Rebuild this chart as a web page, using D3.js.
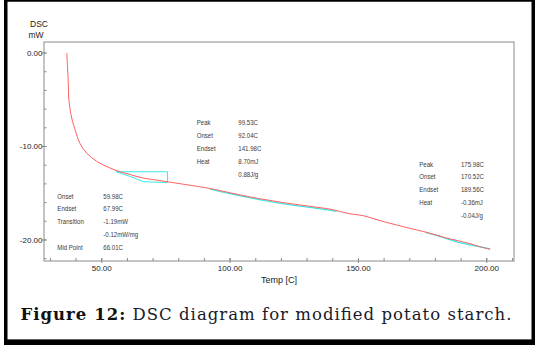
<!DOCTYPE html>
<html>
<head>
<meta charset="utf-8">
<script src="https://cdn.jsdelivr.net/npm/d3@7"></script>
<style>
  html, body { margin: 0; padding: 0; background: #fff; }
  svg { display: block; }
</style>
</head>
<body>
<div id="chart"></div>
<script>
// DSC trace of modified potato starch.

// heat flow (mW) vs temperature (C)
const DSC_TEMP = [36.4, 36.6, 36.8, 37.0, 37.1, 37.5, 37.9, 38.6, 39.6, 41.5, 44.2, 48.1, 53.2, 57.1,
                  61.0, 64.9, 69.0, 75.0, 81.0, 88.0, 92.2, 100.0, 107.8, 114.0, 120.7, 127.0, 133.8,
                  138.9, 146.7, 151.9, 158.0, 164.9, 170.0, 175.3, 180.0, 184.4, 189.0, 193.5, 197.0, 201.3];
const DSC_MW   = [0.0, -1.2, -2.2, -3.5, -4.7, -5.7, -6.45, -7.3, -8.2, -9.66, -10.73, -11.6, -12.3, -12.7,
                  -13.0, -13.3, -13.5, -13.75, -14.0, -14.3, -14.5, -14.95, -15.4, -15.7, -16.0, -16.25, -16.5,
                  -16.7, -17.2, -17.4, -17.9, -18.4, -18.75, -19.1, -19.45, -19.8, -20.1, -20.4, -20.7, -21.0];

// baselines drawn by the analysis software (cyan)
const GLASS_STEP_TEMP  = [55.6, 75.6, 75.6, 66.2, 61.0, 55.6];
const GLASS_STEP_MW    = [-12.7, -12.7, -13.87, -13.76, -13.2, -12.7];
const PEAK1_BASE_TEMP  = [92.2, 100.0, 110.0, 125.0, 133.8, 141.5];
const PEAK1_BASE_MW    = [-14.55, -15.05, -15.6, -16.3, -16.62, -16.95];
const PEAK2_BASE_TEMP  = [176.0, 182.0, 188.3, 194.0, 201.3];
const PEAK2_BASE_MW    = [-19.15, -19.65, -20.2, -20.55, -20.95];

// annotation blocks: anchor in data coords + label/value rows
const ANN_GLASS = { temp: 32.7, mw: -15.3,
  labels: ["Onset", "Endset", "Transition", "", "Mid Point"],
  values: ["59.98C", "67.99C", "-1.19mW", "-0.12mW/mg", "66.01C"] };
const ANN_PEAK1 = { temp: 87.0, mw: -7.41,
  labels: ["Peak", "Onset", "Endset", "Heat", ""],
  values: ["99.53C", "92.04C", "141.98C", "8.70mJ", "0.88J/g"] };
const ANN_PEAK2 = { temp: 173.7, mw: -11.87,
  labels: ["Peak", "Onset", "Endset", "Heat", ""],
  values: ["175.98C", "170.52C", "189.56C", "-0.36mJ", "-0.04J/g"] };

const X_MAJOR = [50, 100, 150, 200];
const X_MINOR = d3.range(30, 211, 10);
const Y_MAJOR = [0, -10, -20];
const Y_MINOR = d3.range(0, -23, -2);

const W = 539, H = 345;
const FRAME = { left: 44, right: 514, top: 42, bottom: 261 };
const AXIS_COLOR = "#8a8a8a";
const LABEL_FONT = "'Liberation Sans', Arial, sans-serif";
const SQUEEZE = 0.8; // instrument software uses a condensed face

const fmt2 = d => d.toFixed(2);

const svg = d3.select("#chart").append("svg").attr("width", W).attr("height", H);

// outer black border of the figure
svg.append("rect").attr("x", 5.75).attr("y", 0).attr("width", 527.5).attr("height", 341.5)
  .attr("fill", "none").attr("stroke", "#000").attr("stroke-width", 3.5);
svg.append("rect").attr("x", 4).attr("y", 339.5).attr("width", 531).attr("height", 5.5).attr("fill", "#000");

const x = d3.scaleLinear().domain([27.5, 210.6]).range([FRAME.left, FRAME.right]);
const y = d3.scaleLinear().domain([1.18, -22.25]).range([FRAME.top, FRAME.bottom]);

// frame
svg.append("rect")
  .attr("x", FRAME.left).attr("y", FRAME.top)
  .attr("width", FRAME.right - FRAME.left).attr("height", FRAME.bottom - FRAME.top)
  .attr("fill", "none").attr("stroke", AXIS_COLOR).attr("stroke-width", 1);

// x axis ticks + labels
const xAx = svg.append("g").attr("transform", `translate(0,${FRAME.bottom})`);
xAx.selectAll("line.minor").data(X_MINOR).join("line").attr("class", "minor")
  .attr("x1", d => x(d)).attr("x2", d => x(d)).attr("y1", -3).attr("y2", 0)
  .attr("stroke", AXIS_COLOR);
xAx.selectAll("line.major").data(X_MAJOR).join("line").attr("class", "major")
  .attr("x1", d => x(d)).attr("x2", d => x(d)).attr("y1", -3).attr("y2", 2)
  .attr("stroke", AXIS_COLOR);
xAx.selectAll("text").data(X_MAJOR).join("text")
  .attr("x", d => x(d)).attr("y", 9.5).attr("text-anchor", "middle")
  .style("font-family", LABEL_FONT).style("font-size", "8px").style("fill", "#222")
  .text(fmt2);

// y axis ticks + labels
const yAx = svg.append("g").attr("transform", `translate(${FRAME.left},0)`);
yAx.selectAll("line.minor").data(Y_MINOR).join("line").attr("class", "minor")
  .attr("x1", 0).attr("x2", 2.5).attr("y1", d => y(d)).attr("y2", d => y(d))
  .attr("stroke", AXIS_COLOR);
yAx.selectAll("line.major").data(Y_MAJOR).join("line").attr("class", "major")
  .attr("x1", -2).attr("x2", 2.5).attr("y1", d => y(d)).attr("y2", d => y(d))
  .attr("stroke", AXIS_COLOR);
yAx.selectAll("text").data(Y_MAJOR).join("text")
  .attr("x", -1.5).attr("y", d => y(d) + 3).attr("text-anchor", "end")
  .style("font-family", LABEL_FONT).style("font-size", "8px").style("fill", "#222")
  .text(fmt2);

// axis titles
svg.append("text").attr("x", 30).attr("y", 27.3)
  .style("font-family", LABEL_FONT).style("font-size", "8.5px").style("fill", "#222").text("DSC");
svg.append("text").attr("x", 28.5).attr("y", 38.3)
  .style("font-family", LABEL_FONT).style("font-size", "8.5px").style("fill", "#222").text("mW");
svg.append("text").attr("x", (FRAME.left + FRAME.right) / 2).attr("y", 283)
  .attr("text-anchor", "middle")
  .style("font-family", LABEL_FONT).style("font-size", "9px").style("fill", "#222").text("Temp  [C]");

// curves
const line = d3.line().x(d => x(d[0])).y(d => y(d[1]));
const zipPts = (a, b) => a.map((t, i) => [t, b[i]]);

const cyan = "#3ee6e6";
svg.append("path").datum(zipPts(GLASS_STEP_TEMP, GLASS_STEP_MW))
  .attr("d", line).attr("fill", "none").attr("stroke", cyan).attr("stroke-width", 1);
svg.append("path").datum(zipPts(PEAK1_BASE_TEMP, PEAK1_BASE_MW))
  .attr("d", line.curve(d3.curveMonotoneX)).attr("fill", "none").attr("stroke", cyan).attr("stroke-width", 1.3);
svg.append("path").datum(zipPts(PEAK2_BASE_TEMP, PEAK2_BASE_MW))
  .attr("d", line.curve(d3.curveMonotoneX)).attr("fill", "none").attr("stroke", cyan).attr("stroke-width", 1.3);

svg.append("path").datum(zipPts(DSC_TEMP, DSC_MW))
  .attr("d", d3.line().x(d => x(d[0])).y(d => y(d[1])).curve(d3.curveCatmullRom))
  .attr("fill", "none").attr("stroke", "#ff6060").attr("stroke-width", 1);

// annotation blocks
function annotate(a, valueDx, rowStep) {
  const g = svg.append("g")
    .attr("transform", `translate(${x(a.temp)},${y(a.mw)}) scale(${SQUEEZE},1)`)
    .style("font-family", LABEL_FONT).style("font-size", "7.6px").style("fill", "#3a3a3a");
  a.labels.forEach((lab, i) => {
    if (lab) g.append("text").attr("x", 0).attr("y", i * rowStep + 2.7).text(lab);
    g.append("text").attr("x", valueDx / SQUEEZE).attr("y", i * rowStep + 2.7).text(a.values[i]);
  });
}
annotate(ANN_GLASS, 46, 12.7);
annotate(ANN_PEAK1, 41.6, 13.1);
annotate(ANN_PEAK2, 41.7, 12.75);

// caption
const cap = svg.append("text").attr("x", 20.5).attr("y", 320)
  .attr("textLength", 491).attr("lengthAdjust", "spacing")
  .style("font-family", "'DejaVu Serif', 'Liberation Serif', serif").style("font-size", "16.5px")
  .style("fill", "#1a1a2a");
cap.append("tspan").style("font-weight", "bold").style("fill", "#111").text("Figure 12:");
cap.append("tspan").text(" DSC diagram for modified potato starch.");
</script>
</body>
</html>
